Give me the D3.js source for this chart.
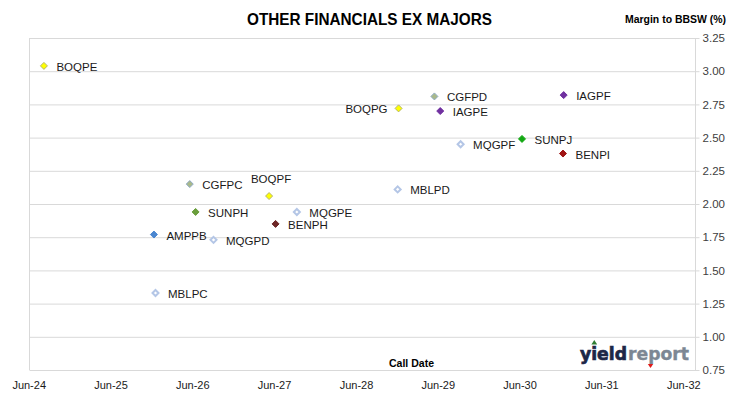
<!DOCTYPE html>
<html>
<head>
<meta charset="utf-8">
<script src="https://d3js.org/d3.v7.min.js"></script>
<style>
  html, body { margin: 0; padding: 0; background: #fff; }
  svg { display: block; }
  text { font-family: "Liberation Sans", Arial, sans-serif; }
  text.logo { font-family: "DejaVu Sans", sans-serif; font-weight: bold; }
</style>
</head>
<body>
<div id="chart"></div>
<script>
"use strict";

// ---- data ----
const codes = ["BOQPE", "AMPPB", "MBLPC", "CGFPC", "SUNPH", "MQGPD", "BOQPF", "BENPH",
               "MQGPE", "MBLPD", "BOQPG", "CGFPD", "IAGPE", "MQGPF", "SUNPJ", "BENPI", "IAGPF"];
const callDates = ["2024-08-08", "2025-12-12", "2025-12-19", "2026-05-21", "2026-06-16", "2026-09-04",
                   "2027-05-10", "2027-06-08", "2027-09-11", "2028-12-04", "2028-12-08", "2029-05-17",
                   "2029-06-12", "2029-09-11", "2030-06-12", "2030-12-12", "2030-12-15"];
const margins = [3.04, 1.77, 1.33, 2.15, 1.94, 1.73, 2.06, 1.85,
                 1.94, 2.11, 2.72, 2.81, 2.70, 2.45, 2.49, 2.38, 2.82];
const xTickDates = ["2024-06-01", "2025-06-01", "2026-06-01", "2027-06-01", "2028-06-01",
                    "2029-06-01", "2030-06-01", "2031-06-01", "2032-06-01"];
const xTickLabels = ["Jun-24", "Jun-25", "Jun-26", "Jun-27", "Jun-28", "Jun-29", "Jun-30", "Jun-31", "Jun-32"];
const yTicks = [0.75, 1.00, 1.25, 1.50, 1.75, 2.00, 2.25, 2.50, 2.75, 3.00, 3.25];

// ---- styles ----
const markerStyle = {
    BOQ: {fill: "#ffff00", stroke: "#b5b56e", w: 1, r: 3.5},
    CGF: {fill: "#a9b98a", stroke: "#8eaac6", w: 1, r: 3.5},
    SUNPH: {fill: "#6a9e3c", stroke: "#6a9e3c", w: 1, r: 3.5},
    SUNPJ: {fill: "#12a812", stroke: "#12a812", w: 1, r: 3.5},
    AMP: {fill: "#4a86d0", stroke: "#4a86d0", w: 1, r: 3.5},
    MQG: {fill: "#ffffff", stroke: "#b4c6e6", w: 2, r: 3},
    MBL: {fill: "#ffffff", stroke: "#b4c6e6", w: 2, r: 3},
    BENPH: {fill: "#6e2626", stroke: "#6e2626", w: 1, r: 3.5},
    BENPI: {fill: "#a01414", stroke: "#a01414", w: 1, r: 3.5},
    IAG: {fill: "#7030a0", stroke: "#7030a0", w: 1, r: 3.5}
};
function styleFor(code) {
    return markerStyle[code] || markerStyle[code.slice(0, 3)];
}
// where the label sits relative to its marker (default: right)
const labelPlace = {BOQPG: "left", BOQPF: "above"};

const width = 730, height = 399;
const plot = {left: 29.5, right: 695.5, top: 38, bottom: 370};

const svg = d3.select("#chart").append("svg")
    .attr("width", width)
    .attr("height", height);

const parse = d3.timeParse("%Y-%m-%d");

const x = d3.scaleTime()
    .domain([parse(xTickDates[0]), parse(xTickDates[xTickDates.length - 1])])
    .range([28.7, 683.3]);

const y = d3.scaleLinear()
    .domain([0.75, 3.25])
    .range([plot.bottom, plot.top]);

// gridlines + right axis
const yAxis = d3.axisRight(y)
    .tickValues(yTicks)
    .tickSize(plot.right - plot.left + 4)
    .tickPadding(8)
    .tickFormat(d3.format(".2f"));

const gy = svg.append("g")
    .attr("transform", "translate(" + plot.left + ",0)")
    .call(yAxis);
gy.select(".domain").remove();
gy.selectAll(".tick line").attr("stroke", "#d9d9d9");
gy.selectAll(".tick text")
    .attr("x", width - 5 - plot.left)
    .attr("text-anchor", "end")
    .attr("font-size", 11.5)
    .attr("font-family", "Liberation Sans, Arial, sans-serif")
    .attr("fill", "#404040");

// frame lines left and right
svg.append("line")
    .attr("x1", plot.left).attr("x2", plot.left)
    .attr("y1", plot.top).attr("y2", plot.bottom)
    .attr("stroke", "#d9d9d9");
svg.append("line")
    .attr("x1", plot.right).attr("x2", plot.right)
    .attr("y1", plot.top).attr("y2", plot.bottom)
    .attr("stroke", "#d9d9d9");

// x axis labels
const xAxis = d3.axisBottom(x)
    .tickValues(xTickDates.map(parse))
    .tickSize(0)
    .tickPadding(11)
    .tickFormat((d, i) => xTickLabels[i]);
const gx = svg.append("g")
    .attr("transform", "translate(0," + plot.bottom + ")")
    .call(xAxis);
gx.select(".domain").remove();
gx.selectAll(".tick text")
    .attr("font-size", 11)
    .attr("font-family", "Liberation Sans, Arial, sans-serif")
    .attr("fill", "#1a1a1a");

// titles
svg.append("text")
    .attr("x", 369.5).attr("y", 25)
    .attr("text-anchor", "middle")
    .attr("font-size", 16.5).attr("font-weight", "bold")
    .attr("textLength", 245).attr("lengthAdjust", "spacingAndGlyphs")
    .text("OTHER FINANCIALS EX MAJORS");

svg.append("text")
    .attr("x", 625).attr("y", 23)
    .attr("font-size", 11).attr("font-weight", "bold")
    .attr("textLength", 101).attr("lengthAdjust", "spacingAndGlyphs")
    .text("Margin to BBSW (%)");

svg.append("text")
    .attr("x", 389).attr("y", 367)
    .attr("font-size", 11.5).attr("font-weight", "bold")
    .attr("textLength", 45).attr("lengthAdjust", "spacingAndGlyphs")
    .text("Call Date");

// logo
const logo = svg.append("g");
logo.append("text")
    .attr("class", "logo")
    .attr("x", 580).attr("y", 360)
    .attr("font-size", 18.5)
    .attr("fill", "#1c2747")
    .attr("stroke", "#1c2747").attr("stroke-width", 0.7)
    .attr("textLength", 47).attr("lengthAdjust", "spacingAndGlyphs")
    .text("yield");
logo.append("text")
    .attr("class", "logo")
    .attr("x", 628).attr("y", 360)
    .attr("font-size", 18.5)
    .attr("fill", "#7c8794")
    .attr("stroke", "#7c8794").attr("stroke-width", 0.4)
    .attr("textLength", 61).attr("lengthAdjust", "spacingAndGlyphs")
    .text("report");
logo.append("path")
    .attr("d", "M594.3,340 L597.2,344.5 L591.4,344.5 Z")
    .attr("fill", "#2e7d32");
logo.append("path")
    .attr("d", "M647.8,364 L653.2,364 L650.5,368 Z")
    .attr("fill", "#e01b1b");

// points
const pts = codes.map((c, i) => ({code: c, date: parse(callDates[i]), value: margins[i]}));

const diamond = r => "M0," + (-r) + "L" + r + ",0L0," + r + "L" + (-r) + ",0Z";

const g = svg.append("g");
const node = g.selectAll("g.pt")
    .data(pts)
    .join("g")
    .attr("class", "pt")
    .attr("transform", d => "translate(" + x(d.date) + "," + y(d.value) + ")");

node.append("path")
    .attr("d", d => diamond(styleFor(d.code).r))
    .attr("fill", d => styleFor(d.code).fill)
    .attr("stroke", d => styleFor(d.code).stroke)
    .attr("stroke-width", d => styleFor(d.code).w);

node.append("text")
    .attr("font-size", 11.5)
    .attr("fill", "#1a1a1a")
    .attr("dominant-baseline", "central")
    .attr("text-anchor", d => labelPlace[d.code] === "left" ? "end" : (labelPlace[d.code] === "above" ? "middle" : "start"))
    .attr("x", d => labelPlace[d.code] === "left" ? -11 : (labelPlace[d.code] === "above" ? 2 : 12.5))
    .attr("y", d => labelPlace[d.code] === "above" ? -17 : 1)
    .text(d => d.code);
</script>
</body>
</html>
